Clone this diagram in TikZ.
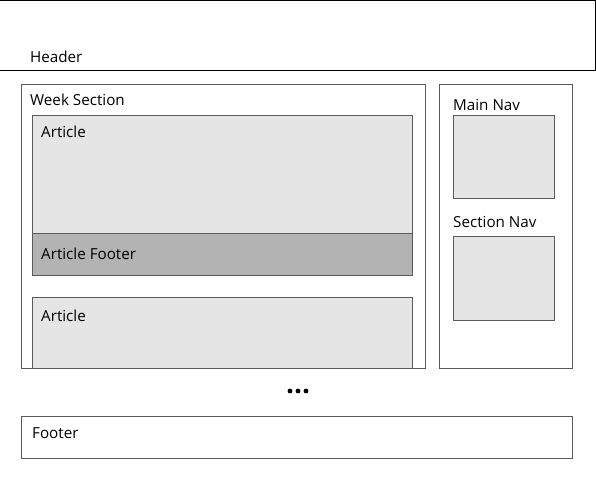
\documentclass[tikz,border=0pt]{standalone}
\usepackage{fontspec}
\setmainfont{Open Sans}
\definecolor{boxline}{HTML}{5A5A5A}
\definecolor{lightfill}{HTML}{E5E5E5}
\definecolor{darkfill}{HTML}{B3B3B3}
\usetikzlibrary{positioning}

\begin{document}
\begin{tikzpicture}[x=1pt,y=-1pt,
    frame/.style={draw=boxline,line width=0.8pt},
    label/.style={anchor=base west,inner sep=0pt,font=\fontsize{15.2}{18}\selectfont}]
    \useasboundingbox (0,0) rectangle (596,480);
    % header
    \draw[line width=0.8pt] (-5,0.5) rectangle (595,70);
    \node[label] (header) at (30,62) {Header};
    % week section with articles
    \fill[lightfill] (32,115) rectangle (412,233);
    \fill[darkfill] (32,233) rectangle (412,275);
    \draw[frame] (32,115) rectangle (412,275);
    \draw[frame] (32,233) -- (412,233);
    \fill[lightfill] (32,297) rectangle (412,368);
    \draw[frame] (32,368) -- (32,297) -- (412,297) -- (412,368);
    \draw[frame] (21,84) rectangle (425,368);
    \node[label] (week) at (30,105) {Week Section};
    \node[label] (art1) at (41,137) {Article};
    \node[label] (artfoot) at (41,259) {Article Footer};
    \node[label] (art2) at (41,321) {Article};
    % side column
    \draw[frame] (439,84) rectangle (572,368);
    \node[label] (mainnav) at (453,110) {Main Nav};
    \filldraw[frame,fill=lightfill] (453,115) rectangle (554,198);
    \node[label] (secnav) at (453,227) {Section Nav};
    \filldraw[frame,fill=lightfill] (453,236) rectangle (554,320);
    % more
    \foreach \dx in {290,298,306}
        \fill (\dx,391) circle (2.4pt);
    % footer
    \draw[frame] (21,416) rectangle (572,458);
    \node[label] (footer) at (32,438) {Footer};
\end{tikzpicture}
\end{document}
